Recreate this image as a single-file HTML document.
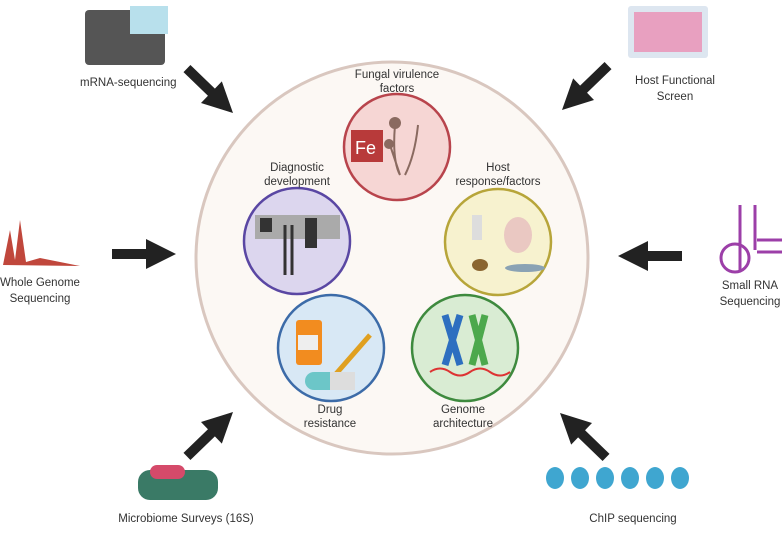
<!DOCTYPE html>
<html><head><meta charset="utf-8"><style>
body{margin:0;background:#fff;}
svg text{font-family:"Liberation Sans",sans-serif;fill:#333;font-size:11.5px;}
</style></head><body>
<svg width="784" height="531" viewBox="0 0 784 531" xmlns="http://www.w3.org/2000/svg">
<defs>
<path id="arr" d="M-64,-5 L-30,-5 L-30,-15 L0,0 L-30,15 L-30,5 L-64,5 Z" fill="#222"/>
</defs>
<circle cx="392" cy="258" r="196" fill="#fcf8f4" stroke="#d9c7bf" stroke-width="3"/>
<circle cx="397" cy="147" r="53" fill="#f6d6d4" stroke="#b8444c" stroke-width="2.5"/>
<circle cx="297" cy="241" r="53" fill="#dcd6ee" stroke="#5a47a3" stroke-width="2.5"/>
<circle cx="498" cy="242" r="53" fill="#f7f2cf" stroke="#b7a53a" stroke-width="2.5"/>
<circle cx="331" cy="348" r="53" fill="#d8e8f5" stroke="#3c6ba8" stroke-width="2.5"/>
<circle cx="465" cy="348" r="53" fill="#d9ecd3" stroke="#3e8a3e" stroke-width="2.5"/>
<rect x="351" y="130" width="32" height="32" fill="#b83a3a"/><text x="355" y="154" style="fill:#fff;font-size:18px">Fe</text>
<path d="M395 125 Q392 160 400 175 M418 125 Q415 155 405 175 M390 145 Q395 160 400 175" stroke="#8a6a60" stroke-width="2" fill="none"/>
<circle cx="395" cy="123" r="6" fill="#8a6a60"/><circle cx="389" cy="144" r="5" fill="#8a6a60"/>
<rect x="255" y="215" width="85" height="24" fill="#aaa"/>
<rect x="260" y="218" width="12" height="14" fill="#333"/><rect x="305" y="218" width="12" height="30" fill="#333"/>
<path d="M285 225 L285 275 M292 225 L292 275" stroke="#333" stroke-width="3"/>
<rect x="472" y="215" width="10" height="25" fill="#ddd"/><ellipse cx="518" cy="235" rx="14" ry="18" fill="#eac8c2"/>
<ellipse cx="480" cy="265" rx="8" ry="6" fill="#8a6530"/><ellipse cx="525" cy="268" rx="20" ry="4" fill="#8aa2b4"/>
<rect x="296" y="320" width="26" height="45" rx="3" fill="#f28c1f"/><rect x="298" y="335" width="20" height="15" fill="#eee"/>
<path d="M335 375 L370 335" stroke="#e0a020" stroke-width="5"/>
<rect x="305" y="372" width="50" height="18" rx="9" fill="#6cc6c8"/><rect x="330" y="372" width="25" height="18" fill="#ddd"/>
<path d="M445 315 L460 365 M460 315 L445 365" stroke="#2d6fc0" stroke-width="7"/>
<path d="M472 315 L485 365 M485 315 L472 365" stroke="#4ca84c" stroke-width="7"/>
<path d="M430 372 Q440 365 450 372 T470 372 T490 372 T510 372" stroke="#d33" stroke-width="2" fill="none"/>
<g text-anchor="middle">
<text x="397" y="78">Fungal virulence</text><text x="397" y="92">factors</text>
<text x="297" y="171">Diagnostic</text><text x="297" y="185">development</text>
<text x="498" y="171">Host</text><text x="498" y="185">response/factors</text>
<text x="330" y="413">Drug</text><text x="330" y="427">resistance</text>
<text x="463" y="413">Genome</text><text x="463" y="427">architecture</text>
</g>
<use href="#arr" transform="translate(233,113) rotate(44)"/>
<use href="#arr" transform="translate(562,110) rotate(136)"/>
<use href="#arr" transform="translate(176,254)"/>
<use href="#arr" transform="translate(618,256) rotate(180)"/>
<use href="#arr" transform="translate(233,412) rotate(-44)"/>
<use href="#arr" transform="translate(560,413) rotate(-136)"/>
<rect x="85" y="10" width="80" height="55" rx="4" fill="#555"/><rect x="130" y="6" width="38" height="28" fill="#b8e0ec"/>
<rect x="628" y="6" width="80" height="52" rx="3" fill="#dde6f0"/>
<rect x="634" y="12" width="68" height="40" fill="#e8a0c0"/>
<path d="M3 265 L10 230 L15 260 L20 220 L26 262 L40 258 L60 262 L80 266 Z" fill="#c0473c"/>
<path d="M740 205 L740 270 M755 205 L755 250" stroke="#9c3fa8" stroke-width="3"/>
<circle cx="735" cy="258" r="14" fill="none" stroke="#9c3fa8" stroke-width="3"/>
<path d="M757 240 L782 240 M757 252 L782 252" stroke="#9c3fa8" stroke-width="3"/>
<rect x="138" y="470" width="80" height="30" rx="12" fill="#3a7a66"/>
<rect x="150" y="465" width="35" height="14" rx="7" fill="#d54a6a"/>
<g fill="#3fa6d0"><ellipse cx="555" cy="478" rx="9" ry="11"/><ellipse cx="580" cy="478" rx="9" ry="11"/><ellipse cx="605" cy="478" rx="9" ry="11"/><ellipse cx="630" cy="478" rx="9" ry="11"/><ellipse cx="655" cy="478" rx="9" ry="11"/><ellipse cx="680" cy="478" rx="9" ry="11"/></g>
<text x="80" y="86">mRNA-sequencing</text>
<g text-anchor="middle">
<text x="675" y="84">Host Functional</text><text x="675" y="100">Screen</text>
<text x="40" y="286">Whole Genome</text><text x="40" y="302">Sequencing</text>
<text x="750" y="289">Small RNA</text><text x="750" y="305">Sequencing</text>
<text x="186" y="522">Microbiome Surveys (16S)</text>
<text x="633" y="522">ChIP sequencing</text>
</g>
</svg>
</body></html>
